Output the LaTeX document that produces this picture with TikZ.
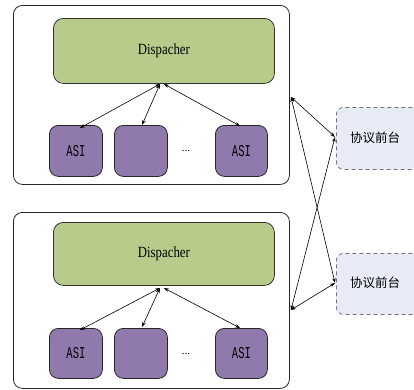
\documentclass[tikz,border=0pt]{standalone}
\usepackage{fontspec}
\setmainfont{Liberation Serif}
\newfontfamily\cjk{Noto Sans CJK SC}
\newfontfamily\monof{Liberation Mono}
\usetikzlibrary{arrows.meta}
\definecolor{dispgreen}{HTML}{B7CB8B}
\definecolor{asipurple}{HTML}{9079AD}
\definecolor{frontblue}{HTML}{E6EBF6}
\tikzset{
  outerbox/.style={draw=black!85, line width=0.8pt, rounded corners=9pt, fill=white},
  dispbox/.style={draw=black!80, line width=0.8pt, rounded corners=10pt, fill=dispgreen},
  asibox/.style={draw=black!85, line width=0.8pt, rounded corners=9pt, fill=asipurple},
  frontbox/.style={draw=black!55, line width=0.8pt, dash pattern=on 4pt off 3pt, rounded corners=7pt, fill=frontblue},
  conn/.style={line width=0.6pt, {Stealth[length=5pt,width=3.5pt]}-{Stealth[length=5pt,width=3.5pt]}}
}
\newcommand{\disptext}{\fontsize{13.5}{15}\selectfont\scalebox{0.95}[1.15]{Dispacher}}
\newcommand{\asitext}{\monof\fontsize{11}{13}\selectfont\scalebox{0.95}[1.5]{ASI}}
\newcommand{\fronttext}{\cjk\fontsize{12.5}{14}\selectfont 协议前台}
\begin{document}
\begin{tikzpicture}[x=1pt,y=-1pt]
\useasboundingbox (0,0) rectangle (414,389);
\clip (0,0) rectangle (414,389);
% top group
\node[outerbox, minimum width=276pt, minimum height=179pt, anchor=north west] (outerA) at (13,5) {};
\node[dispbox, minimum width=221pt, minimum height=65pt, anchor=north west] (dispA) at (53,18) {\disptext};
\node[asibox, minimum width=53pt, minimum height=51pt, anchor=north west] (asiA1) at (49,125) {\asitext};
\node[asibox, minimum width=53pt, minimum height=51pt, anchor=north west] (asiA2) at (114,125) {};
\node[asibox, minimum width=52pt, minimum height=51pt, anchor=north west] (asiA3) at (215,125) {\asitext};
\node (dotsA) at (186,151) {\fontsize{11}{13}\selectfont ...};
\coordinate (dA1) at (160,84);
\coordinate (dA2) at (164,84);
\coordinate (eA1) at (80,128);
\coordinate (eA2) at (142,125);
\coordinate (eA3) at (240,126);
\draw[conn] (dA1) -- (eA1);
\draw[conn] (dA1) -- (eA2);
\draw[conn] (dA2) -- (eA3);
% bottom group
\node[outerbox, minimum width=276pt, minimum height=176pt, anchor=north west] (outerB) at (13,212) {};
\node[dispbox, minimum width=221pt, minimum height=63pt, anchor=north west] (dispB) at (53,222) {\disptext};
\node[asibox, minimum width=53pt, minimum height=50pt, anchor=north west] (asiB1) at (49,328) {\asitext};
\node[asibox, minimum width=53pt, minimum height=50pt, anchor=north west] (asiB2) at (114,328) {};
\node[asibox, minimum width=52pt, minimum height=50pt, anchor=north west] (asiB3) at (215,328) {\asitext};
\node (dotsB) at (186,354) {\fontsize{11}{13}\selectfont ...};
\coordinate (dB1) at (160,288);
\coordinate (dB2) at (164,288);
\coordinate (eB1) at (80,330);
\coordinate (eB2) at (142,327);
\coordinate (eB3) at (240,328);
\draw[conn] (dB1) -- (eB1);
\draw[conn] (dB1) -- (eB2);
\draw[conn] (dB2) -- (eB3);
% front boxes
\node[frontbox, minimum width=90pt, minimum height=62pt, anchor=north west] (front1) at (336,107) {};
\node at (375,138) {\fronttext};
\node[frontbox, minimum width=90pt, minimum height=61pt, anchor=north west] (front2) at (336,253) {};
\node at (375,283) {\fronttext};
\coordinate (jA) at (291,97);
\coordinate (jB) at (291,310);
\coordinate (f1) at (335,137);
\coordinate (f2) at (335,283);
\draw[conn] (jA) -- (f1);
\draw[conn] (jA) -- (f2);
\draw[conn] (jB) -- (f1);
\draw[conn] (jB) -- (f2);
\end{tikzpicture}
\end{document}
